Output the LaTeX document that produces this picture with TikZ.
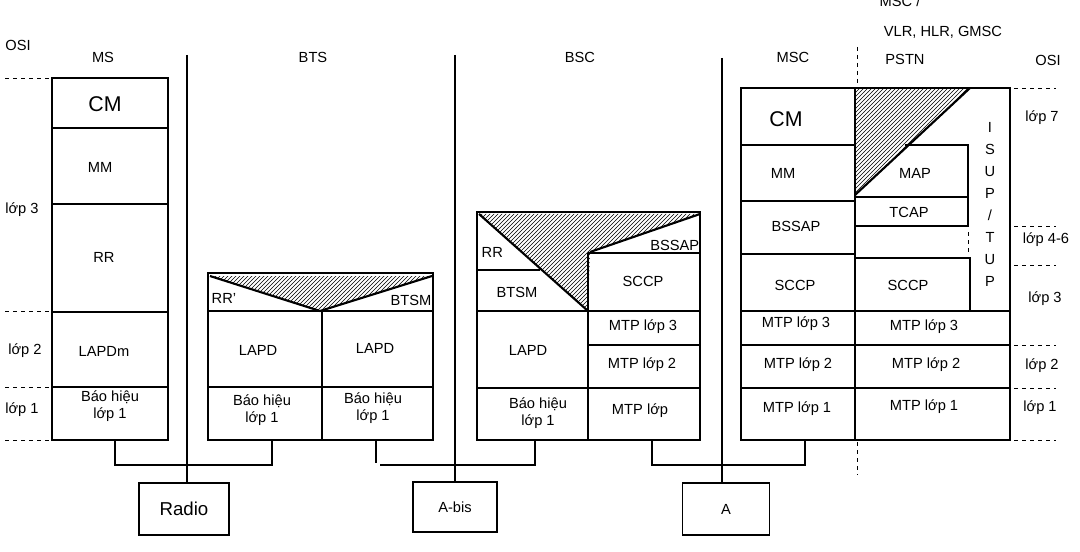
\documentclass[tikz,border=0pt]{standalone}
\usepackage{fontspec}
\setmainfont{Liberation Sans}
\usetikzlibrary{patterns}
\tikzset{
  lbl/.style={inner sep=0pt,font=\fontsize{11}{13}\selectfont,align=center},
  big/.style={inner sep=0pt,font=\fontsize{16}{18}\selectfont},
  thk/.style={line width=1.6pt},
  osi/.style={dashed,thin},
  hatch/.style={pattern=north east lines}
}
\begin{document}
\begin{tikzpicture}[x=0.75pt,y=-0.75pt,line width=1.1pt]
\useasboundingbox (0,0) rectangle (1080,552);

% headers
\node[lbl] (hosil) at (18,45) {OSI};
\node[lbl] (hms) at (103,57) {MS};
\node[lbl] (hbts) at (313,57) {BTS};
\node[lbl] (hbsc) at (580,57) {BSC};
\node[lbl] (hmsc) at (793,57) {MSC};
\node[lbl] (hpstn) at (905,59) {PSTN};
\node[lbl] (hosir) at (1048,60) {OSI};
\node[lbl] (hvlr) at (943,32) {VLR, HLR, GMSC};
\node[lbl] (hmsct) at (900,1) {MSC /};

% interface lines
\draw (187,55) -- (187,483);
\draw (455,55) -- (455,482);
\draw (722,58) -- (722,483);

% OSI left
\foreach \y in {78,311,387,440} \draw[osi] (5,\y) -- (50,\y);
\node[lbl] (l3) at (22,210) {lớp 3};
\node[lbl] (l2) at (25,351) {lớp 2};
\node[lbl] (l1) at (22,410) {lớp 1};

% MS
\draw (52,78) rectangle (168,440);
\draw (52,128) -- (168,128);
\draw (52,204) -- (168,204);
\draw[thk] (52,312) -- (168,312);
\draw (52,387) -- (168,387);
\node[big] (mscm) at (105,104) {CM};
\node[lbl] (msmm) at (100,167) {MM};
\node[lbl] (msrr) at (104,257) {RR};
\node[lbl] (mslapd) at (104,351) {LAPDm};
\node[lbl] (msbh) at (110,406) {Báo hiệu\\lớp 1};

% BTS
\draw (208,273) rectangle (433,440);
\fill[hatch] (210,276) -- (320,311) -- (432,276) -- cycle;
\draw[thk] (210,276) -- (320,311) -- (432,276);
\draw[thk] (208,311) -- (433,311);
\draw (322,311) -- (322,440);
\draw (208,387) -- (433,387);
\node[lbl,anchor=west] (btsrr) at (211,298) {RR'};
\node[lbl,anchor=east] (btsbtsm) at (432,300) {BTSM};
\node[lbl] (btslapd1) at (258,350) {LAPD};
\node[lbl] (btslapd2) at (375,348) {LAPD};
\node[lbl] (btsbh1) at (262,410) {Báo hiệu\\lớp 1};
\node[lbl] (btsbh2) at (373,408) {Báo hiệu\\lớp 1};

% BSC
\draw (477,212) rectangle (700,440);
\fill[hatch] (479,214) -- (700,214) -- (590,252) -- (588,311) -- cycle;
\draw[thk] (479,214) -- (588,311);
\draw[thk] (590,252) -- (700,214);
\draw (588,253) -- (700,253);
\draw (588,253) -- (588,440);
\draw (477,270) -- (540,270);
\draw[thk] (477,311) -- (700,311);
\draw (588,345) -- (700,345);
\draw (477,388) -- (700,388);
\node[lbl,anchor=west] (bscrr) at (481,252) {RR};
\node[lbl,anchor=east] (bscbssap) at (700,245) {BSSAP};
\node[lbl] (bscbtsm) at (517,292) {BTSM};
\node[lbl] (bsclapd) at (528,350) {LAPD};
\node[lbl] (bscbh) at (538,413) {Báo hiệu\\lớp 1};
\node[lbl] (bscsccp) at (643,281) {SCCP};
\node[lbl] (bscmtp3) at (643,327) {MTP lớp 3};
\node[lbl] (bscmtp2) at (642,365) {MTP lớp 2};
\node[lbl] (bscmtp1) at (640,411) {MTP lớp};

% MSC
\draw (741,88) rectangle (1010,440);
\draw (855,88) -- (855,440);
\fill[hatch] (855,88) -- (970,88) -- (855,195) -- cycle;
\draw[thk] (970,88) -- (855,195);
\draw (741,145) -- (855,145);
\draw (741,201) -- (855,201);
\draw[thk] (741,254) -- (855,254);
\draw (741,311) -- (1010,311);
\draw (741,345) -- (1010,345);
\draw (741,388) -- (1010,388);
\draw (905,145) -- (968,145) -- (968,226) -- (855,226);
\draw (855,197) -- (968,197);
\draw (855,258) -- (970,258) -- (970,311);
\draw[dashed,thin] (968,232) -- (968,252);
\node[big] (mccm) at (786,119) {CM};
\node[lbl] (mcmm) at (783,173) {MM};
\node[lbl] (mcbssap) at (796,226) {BSSAP};
\node[lbl] (mcsccp) at (795,285) {SCCP};
\node[lbl] (mcmtp3) at (796,324) {MTP lớp 3};
\node[lbl] (mcmtp2) at (798,365) {MTP lớp 2};
\node[lbl] (mcmtp1) at (797,409) {MTP lớp 1};
\node[lbl] (pmap) at (915,173) {MAP};
\node[lbl] (ptcap) at (909,212) {TCAP};
\node[lbl] (psccp) at (908,285) {SCCP};
\node[lbl] (pmtp3) at (924,327) {MTP lớp 3};
\node[lbl] (pmtp2) at (926,365) {MTP lớp 2};
\node[lbl] (pmtp1) at (924,407) {MTP lớp 1};
\node[lbl,font=\fontsize{11}{16.5}\selectfont] (isup) at (990,204) {I\\S\\U\\P\\/\\T\\U\\P};
\draw[dashed,thin] (857,47) -- (857,86);
\draw[dashed,thin] (857,442) -- (857,475);

% OSI right
\foreach \y in {88,226,265,345,388,440} \draw[osi] (1014,\y) -- (1056,\y);
\node[lbl] (r7) at (1042,118) {lớp 7};
\node[lbl] (r46) at (1046,240) {lớp 4-6};
\node[lbl] (r3) at (1045,299) {lớp 3};
\node[lbl] (r2) at (1042,366) {lớp 2};
\node[lbl] (r1) at (1040,408) {lớp 1};

% interface boxes
\node[draw,minimum width=67.5pt,minimum height=39pt,inner sep=0pt,font=\fontsize{14}{16}\selectfont] (radio) at (184,509) {Radio};
\node[draw,minimum width=63pt,minimum height=37.5pt,lbl] (abis) at (455,507) {A-bis};
\node[draw,minimum width=65pt,minimum height=39pt,lbl] (aif) at (726,509) {A};

% links
\draw (115,440) -- (115,465) -- (272,465) -- (272,440);
\draw (376,440) -- (376,463);
\draw (380,465) -- (535,465) -- (535,440);
\draw (652,440) -- (652,465) -- (805,465) -- (805,440);
\end{tikzpicture}
\end{document}
